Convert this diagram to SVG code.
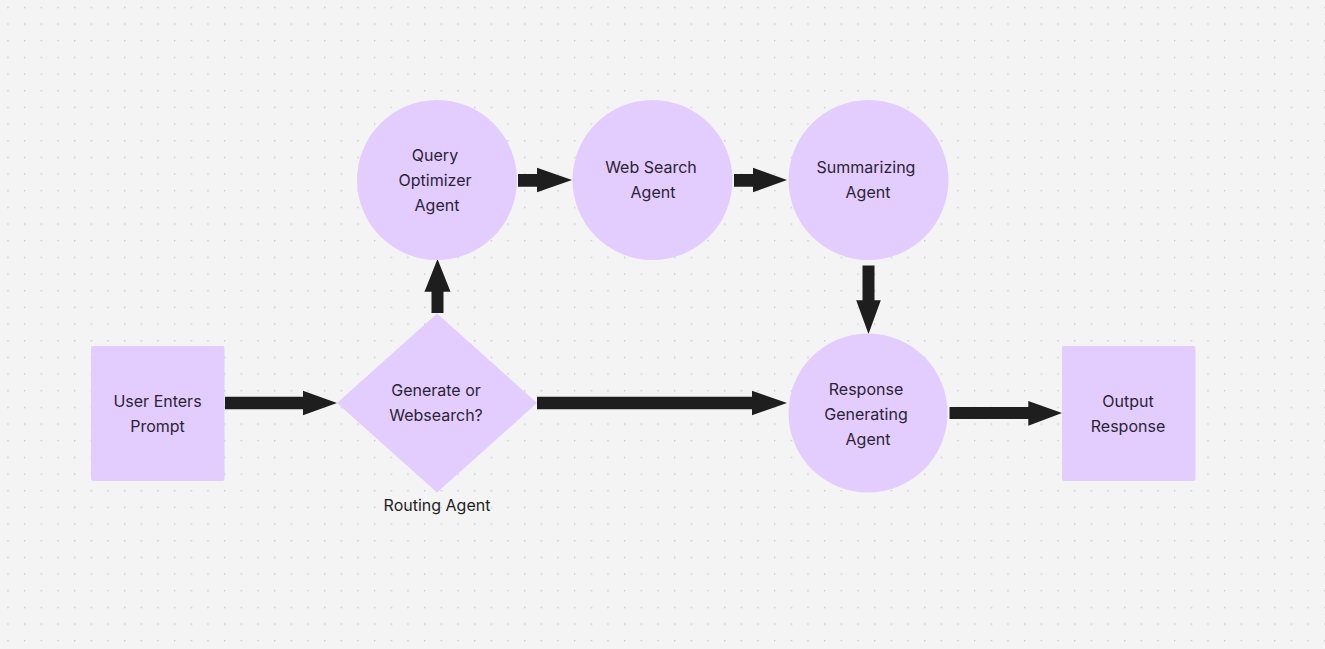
<svg xmlns="http://www.w3.org/2000/svg" width="1325" height="649" viewBox="0 0 1325 649">
<defs>
<pattern id="dots" x="7.3" y="6.7" width="16.667" height="16.667" patternUnits="userSpaceOnUse">
<rect x="0" y="0" width="1.4" height="1.4" fill="#c9c9c9"/>
</pattern>
<style>
.node{fill:#e3cdfe;}
.lbl{font-family:Inter,"Noto Sans","Liberation Sans",sans-serif;font-size:16px;fill:#2b2434;text-anchor:middle;}
.cap{font-family:Inter,"Noto Sans","Liberation Sans",sans-serif;font-size:16px;fill:#1e1e1e;text-anchor:middle;}
.arr{fill:#1e1e1e;}
</style>
</defs>
<rect width="1325" height="649" fill="#f4f4f4"/>
<rect width="1325" height="649" fill="url(#dots)"/>

<g id="connectors">
<polygon class="arr" points="225,396.7 303,396.7 303,390.7 337,403 303,415.3 303,409.3 225,409.3"/>
<polygon class="arr" points="431.5,313 431.5,291.7 424.5,291.7 437.5,259 450.5,291.7 443.5,291.7 443.5,313"/>
<polygon class="arr" points="518,174 537,174 537,167.7 572,180 537,192.3 537,186.7 518,186.7"/>
<polygon class="arr" points="734,174 753,174 753,167.7 787,180 753,192.3 753,186.7 734,186.7"/>
<polygon class="arr" points="862.5,265.5 874.5,265.5 874.5,300.3 880.8,300.3 868.5,334 856.2,300.3 862.5,300.3"/>
<polygon class="arr" points="537,396.7 752,396.7 752,390.7 787,403 752,415.3 752,409.3 537,409.3"/>
<polygon class="arr" points="949.5,407 1028.3,407 1028.3,401 1062,413 1028.3,425.7 1028.3,419 949.5,419"/>
</g>

<g id="user-prompt">
<rect class="node" x="91" y="346" width="133.5" height="135" rx="2"/>
<text class="lbl" x="157.5" y="407">User Enters</text>
<text class="lbl" x="157.5" y="432">Prompt</text>
</g>

<g id="routing-agent">
<polygon class="node" points="437,313.5 537,403 437,492.5 337,403"/>
<text class="lbl" x="436" y="396">Generate or</text>
<text class="lbl" x="436" y="421">Websearch?</text>
<text class="cap" x="437" y="511">Routing Agent</text>
</g>

<g id="query-optimizer">
<circle class="node" cx="437" cy="180" r="80"/>
<text class="lbl" x="435" y="161">Query</text>
<text class="lbl" x="435" y="186">Optimizer</text>
<text class="lbl" x="437" y="211">Agent</text>
</g>

<g id="web-search">
<circle class="node" cx="652.5" cy="180" r="80"/>
<text class="lbl" x="651" y="173">Web Search</text>
<text class="lbl" x="653" y="198">Agent</text>
</g>

<g id="summarizing">
<circle class="node" cx="868.5" cy="180" r="80"/>
<text class="lbl" x="866" y="173">Summarizing</text>
<text class="lbl" x="868" y="198">Agent</text>
</g>

<g id="response-generating">
<circle class="node" cx="868" cy="413" r="79.5"/>
<text class="lbl" x="866" y="395">Response</text>
<text class="lbl" x="866" y="420">Generating</text>
<text class="lbl" x="868" y="445">Agent</text>
</g>

<g id="output-response">
<rect class="node" x="1062" y="346" width="133.5" height="135" rx="2"/>
<text class="lbl" x="1128" y="407">Output</text>
<text class="lbl" x="1128" y="432">Response</text>
</g>
</svg>
